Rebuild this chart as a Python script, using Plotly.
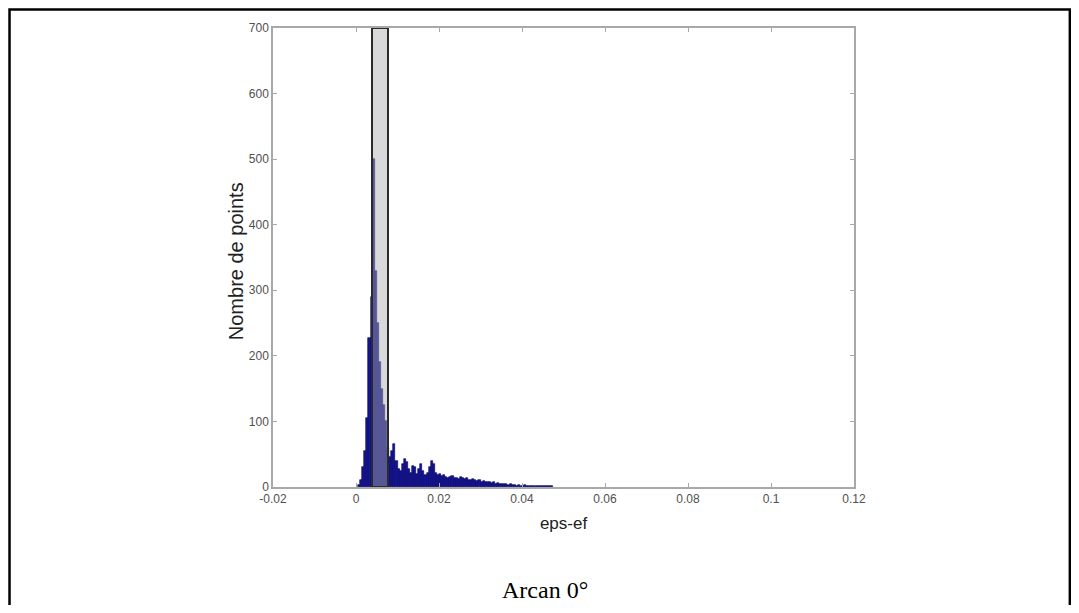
import plotly.graph_objects as go

# Histogram bins (centers) and counts
bin_width = 0.0005
bin_centers = [0.00075 + i * 0.0005 for i in range(94)]
counts = [3, 10, 30, 55, 105, 228, 290, 500, 330, 250,
          190, 150, 125, 100, 60, 45, 55, 65, 40, 28,
          25, 35, 42, 38, 28, 22, 32, 30, 20, 28,
          35, 25, 18, 22, 30, 40, 35, 22, 18, 20,
          17, 19, 16, 14, 15, 17, 13, 14, 12, 15,
          13, 12, 14, 11, 10, 12, 10, 9, 10, 8,
          9, 8, 7, 8, 6, 7, 5, 6, 5, 4,
          5, 4, 3, 4, 3, 3, 2, 3, 2, 2,
          3, 2, 1, 2, 1, 2, 1, 1, 2, 1,
          1, 1, 1, 1]
counts = counts[:len(bin_centers)]
bin_centers = bin_centers[:len(counts)]

# Highlighted (gray) bin
gray_left = 0.0039
gray_right = 0.0077
gray_count = 700

x_ticks = [-0.02, 0, 0.02, 0.04, 0.06, 0.08, 0.1, 0.12]
x_tick_labels = ["-0.02", "0", "0.02", "0.04", "0.06", "0.08", "0.1", "0.12"]
y_ticks = [0, 100, 200, 300, 400, 500, 600, 700]

fig = go.Figure()
fig.add_trace(go.Bar(
    x=bin_centers, y=counts, width=bin_width,
    marker=dict(color="#14149a", line=dict(color="#00005a", width=0.6)),
    showlegend=False,
))
fig.add_trace(go.Bar(
    x=[(gray_left + gray_right) / 2], y=[gray_count], width=gray_right - gray_left,
    marker=dict(color="rgba(170,170,176,0.45)", line=dict(color="#2a2a2a", width=2)),
    showlegend=False,
))

axis_common = dict(
    showline=True, linecolor="#a8a8a8", linewidth=1.5, mirror="ticks",
    ticks="inside", ticklen=4, tickcolor="#a8a8a8",
    showgrid=False, zeroline=False,
    tickfont=dict(family="Liberation Sans, Arial", size=12, color="#505050"),
)

fig.update_layout(
    width=1063, height=597,
    margin=dict(l=265, r=217, t=20, b=118),
    paper_bgcolor="white", plot_bgcolor="white",
    barmode="overlay", bargap=0,
    xaxis=dict(range=[-0.02, 0.12], tickvals=x_ticks, ticktext=x_tick_labels,
               title=dict(text="eps-ef", standoff=12,
                          font=dict(family="Liberation Sans, Arial", size=17, color="#222222")),
               **axis_common),
    yaxis=dict(range=[0, 700], tickvals=y_ticks, **axis_common),
    shapes=[dict(type="rect", xref="paper", yref="paper",
                 x0=-0.4535, x1=1.3715, y0=-0.33, y1=1.0405,
                 line=dict(color="black", width=2.5), fillcolor="rgba(0,0,0,0)")],
    annotations=[
        dict(text="Nombre de points", xref="paper", yref="paper",
             x=-0.0636, y=0.492, textangle=-90, showarrow=False,
             xanchor="center", yanchor="middle",
             font=dict(family="Liberation Sans, Arial", size=20, color="#222222")),
        dict(text="Arcan 0°", xref="paper", yref="paper",
             x=0.468, y=-0.225, showarrow=False, xanchor="center", yanchor="middle",
             font=dict(family="Liberation Serif, Times New Roman", size=24, color="black")),
    ],
)

fig.write_html("out.html")
